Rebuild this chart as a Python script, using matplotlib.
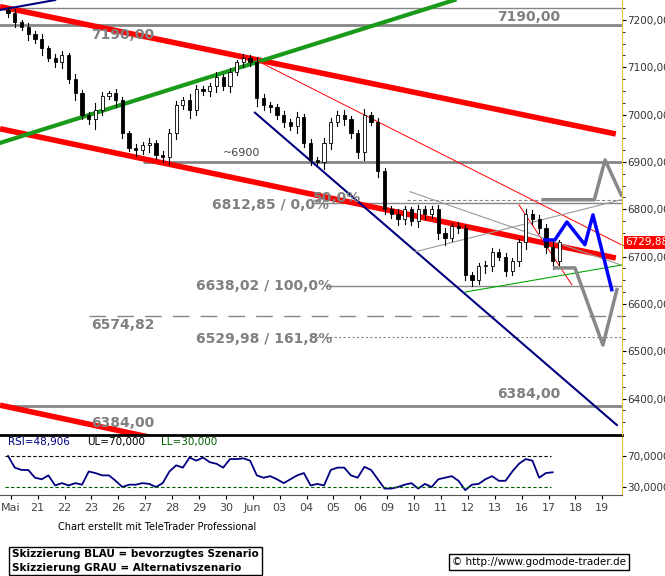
import matplotlib
matplotlib.use("Agg")
import matplotlib.pyplot as plt
import numpy as np

# hourly-ish closes, 4 bars per trading day
closes = [7215, 7195, 7185, 7170, 7160, 7140, 7120, 7110, 7125, 7075, 7045, 7000,
          6990, 7010, 7040, 7045, 7030, 6960, 6930, 6925, 6935, 6940, 6915, 6910,
          6960, 7020, 7030, 7010, 7055, 7050, 7060, 7080, 7060, 7090, 7110, 7120,
          7110, 7035, 7020, 7015, 7000, 6985, 6975, 6995, 6940, 6905, 6900, 6940,
          6985, 7000, 6990, 6960, 6920, 7000, 6985, 6880, 6800, 6790, 6780, 6800,
          6775, 6800, 6790, 6800, 6750, 6740, 6765, 6760, 6660, 6650, 6680, 6680,
          6710, 6700, 6670, 6690, 6730, 6790, 6780, 6760, 6720, 6690, 6729.88]
wicks = [8, 10, 6, 12, 9, 14, 7, 10, 12, 8, 15, 10, 9, 20, 11, 8, 13, 10, 7, 12,
         9, 15, 8, 10, 14, 12, 9, 18, 11, 8, 10, 13, 9, 12, 7, 10, 8, 16, 11, 9,
         10, 12, 8, 14, 9, 11, 7, 15, 12, 10, 13, 9, 11, 16, 8, 12, 10, 9, 14, 11,
         8, 12, 10, 9, 13, 15, 8, 11, 10, 12, 9, 14, 11, 8, 12, 10, 9, 14, 11, 10, 12, 16, 8]
rsi = [70, 55, 52, 52, 42, 40, 45, 32, 35, 32, 35, 33, 50, 48, 45, 45, 38, 30, 33, 33,
       35, 34, 30, 35, 50, 58, 55, 68, 64, 68, 62, 60, 55, 66, 66, 67, 64, 45, 42, 44,
       40, 35, 40, 45, 48, 32, 34, 32, 52, 55, 55, 45, 42, 56, 52, 40, 28, 28, 30, 33,
       35, 28, 34, 30, 40, 42, 44, 38, 26, 33, 34, 40, 44, 38, 38, 50, 60, 66, 64, 42, 48, 49]
day_labels = ['Mai', '21', '22', '23', '26', '27', '28', '29', '30', 'Jun', '03', '04',
              '05', '06', '09', '10', '11', '12', '13', '16', '17', '18', '19']
price_ticks = [6400, 6500, 6600, 6700, 6800, 6900, 7000, 7100, 7200]

# trend lines: (x0, y0, x1, y1) in day index / price
red_thick = [(-0.3, 7228, 22.6, 6959), (-0.3, 6970, 22.6, 6697), (-0.3, 6386, 5.3, 6318)]
green_thick = [(-0.3, 6940, 16.6, 7242)]
navy = [(9.18, 7004, 22.64, 6344), (-0.3, 7221, 1.75, 7242)]
red_thin = [(9.18, 7116, 22.8, 6725), (19.0, 6809, 20.97, 6640)]
gray_thin = [(14.95, 6837, 22.8, 6682), (15.13, 6710, 22.8, 6820)]
green_thin = [(17.0, 6625, 22.8, 6682)]
blue_x = [19.96, 20.33, 20.78, 21.45, 21.75, 22.45]
blue_y = [6735, 6735, 6773, 6725, 6788, 6630]
gray1_x = [20.33, 21.08, 22.12, 22.64]
gray1_y = [6676, 6676, 6513, 6630]
gray2_x = [19.9, 21.8, 22.2, 22.8]
gray2_y = [6820, 6820, 6904, 6830]

fig = plt.figure(figsize=(6.65, 5.76), dpi=100)
ax = fig.add_axes([0, 1 - 435 / 576, 622 / 665, 435 / 576])
ax2 = fig.add_axes([0, 1 - 495 / 576, 622 / 665, 58 / 576])
xmin, xmax = -0.3, 22.83
ax.set_xlim(xmin, xmax)
ax.set_ylim(6323, 7242)

gray = '#858585'
ax.axhline(7225, color=gray, lw=1)
ax.axhline(7190, color=gray, lw=2)
ax.axhline(6384, color=gray, lw=2)
ax.hlines(6900, 5, xmax, color=gray, lw=2)
ax.hlines(6812.85, 11.3, xmax, color=gray, lw=1)
ax.hlines(6820, 14.85, xmax, color=gray, lw=0.8, linestyles=(0, (3, 2)))
ax.hlines(6638.02, 11.8, xmax, color=gray, lw=1)
ax.hlines(6574.82, 3.0, xmax, color=gray, lw=1, linestyles=(0, (12, 8)))
ax.hlines(6529.98, 11.3, xmax, color=gray, lw=0.8, linestyles=(0, (2, 2)))

for x0, y0, x1, y1 in red_thick:
    ax.plot([x0, x1], [y0, y1], color='#ff0000', lw=4, solid_capstyle='butt')
for x0, y0, x1, y1 in green_thick:
    ax.plot([x0, x1], [y0, y1], color='#1a9a1a', lw=3)
for x0, y0, x1, y1 in navy:
    ax.plot([x0, x1], [y0, y1], color='#000080', lw=1.5)
for x0, y0, x1, y1 in red_thin:
    ax.plot([x0, x1], [y0, y1], color='#ff0000', lw=0.7)
for x0, y0, x1, y1 in gray_thin:
    ax.plot([x0, x1], [y0, y1], color='#999999', lw=0.8)
for x0, y0, x1, y1 in green_thin:
    ax.plot([x0, x1], [y0, y1], color='#00aa00', lw=0.8)

# candles
for i, c in enumerate(closes):
    x = i * 0.25
    o = closes[i - 1] if i > 0 else c + 5
    lo, hi = min(o, c) - wicks[i], max(o, c) + wicks[i] * 0.7
    ax.plot([x, x], [lo, hi], color='black', lw=0.8, zorder=3)
    ax.bar(x, max(abs(c - o), 1.5), bottom=min(o, c), width=0.12,
           color='white' if c >= o else 'black', edgecolor='black', lw=0.6, zorder=4)

ax.plot(blue_x, blue_y, color='#0000ff', lw=2.5, zorder=5)
ax.plot(gray1_x, gray1_y, color='#888888', lw=2.5, zorder=5)
ax.plot(gray2_x, gray2_y, color='#888888', lw=2.5, zorder=5)

lab = dict(color='#808080', fontsize=10, fontweight='bold', va='center')
ax.text(18.2, 7207, '7190,00', **lab)
ax.text(3.1, 7168, '7190,00', **lab)
ax.text(8.0, 6918, '~6900', color='#404040', fontsize=8, va='center')
ax.text(7.6, 6808, '6812,85 / 0,0%', **lab)
ax.text(11.35, 6823, '50,0%', **lab)
ax.text(7.0, 6638, '6638,02 / 100,0%', **lab)
ax.text(3.1, 6555, '6574,82', **lab)
ax.text(7.0, 6525, '6529,98 / 161,8%', **lab)
ax.text(18.2, 6410, '6384,00', **lab)
ax.text(3.1, 6348, '6384,00', **lab)

ax.set_xticks([])
ax.yaxis.tick_right()
ax.set_yticks(price_ticks)
ax.set_yticklabels([f'{p},00' for p in price_ticks], fontsize=7.5, color='#333333')
ax.tick_params(axis='y', length=3, pad=1)
ax.set_yticks(np.arange(6350, 7250, 25), minor=True)
ax.tick_params(axis='y', which='minor', length=2)
for s in ['top', 'left', 'bottom']:
    ax.spines[s].set_visible(False)
ax.spines['right'].set_color('#e8c040')
ax.text(1.005, (6729.88 - 6323) / (7242 - 6323), '6729,88', transform=ax.transAxes,
        fontsize=7.5, color='white', va='center', ha='left',
        bbox=dict(facecolor='#ff0000', edgecolor='none', pad=1))
ax.plot([0, 1], [0, 0], transform=ax.transAxes, color='black', lw=2, clip_on=False)

# RSI panel
ax2.set_xlim(xmin, xmax)
ax2.set_ylim(19.7, 94.5)
ax2.plot(np.arange(len(rsi)) * 0.25, rsi, color='#000080', lw=1.3)
ax2.hlines(70, -0.1, 20.2, color='black', lw=0.8, linestyles=(0, (3, 2)))
ax2.hlines(30, -0.1, 20.2, color='#006000', lw=0.8, linestyles=(0, (3, 2)))
ax2.text(0.0, 88, 'RSI=48,906', color='#000080', fontsize=7.5, va='center')
ax2.text(2.95, 88, 'UL=70,000', color='black', fontsize=7.5, va='center')
ax2.text(5.7, 88, 'LL=30,000', color='#006000', fontsize=7.5, va='center')
ax2.yaxis.tick_right()
ax2.set_yticks([30, 70])
ax2.set_yticklabels(['30,0000', '70,0000'], fontsize=7.5, color='#333333')
ax2.tick_params(axis='y', length=3, pad=1)
ax2.set_xticks(np.arange(len(day_labels)) + 0.1)
ax2.set_xticklabels(day_labels, fontsize=8, color='#444444')
ax2.tick_params(axis='x', length=3, pad=3)
for s in ['top', 'left']:
    ax2.spines[s].set_visible(False)
ax2.spines['right'].set_color('#e8c040')
ax2.spines['bottom'].set_color('#555555')

fig.text(58 / 665, 1 - 527 / 576, 'Chart erstellt mit TeleTrader Professional', fontsize=7, va='center')
fig.text(12 / 665, 1 - 561 / 576, 'Skizzierung BLAU = bevorzugtes Szenario\nSkizzierung GRAU = Alternativszenario',
         fontsize=7.5, fontweight='bold', va='center', linespacing=1.4,
         bbox=dict(facecolor='white', edgecolor='black', pad=2))
fig.text(452 / 665, 1 - 562 / 576, '© http://www.godmode-trader.de', fontsize=7.5, va='center',
         bbox=dict(facecolor='white', edgecolor='black', pad=2))

fig.savefig('out.png', dpi=100)
